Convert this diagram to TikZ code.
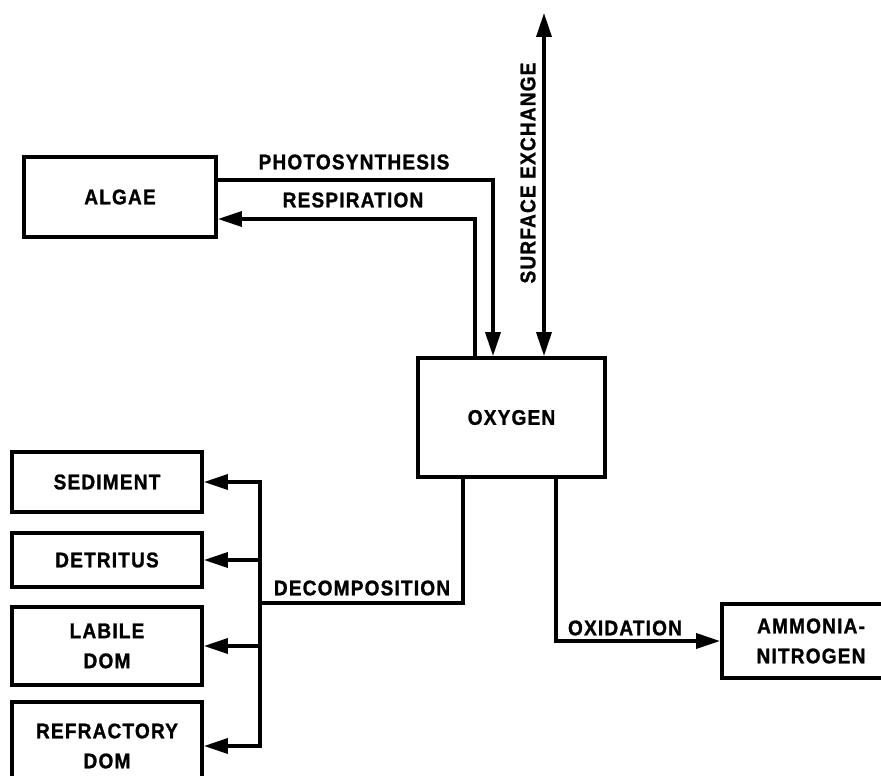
\documentclass[tikz,border=0pt]{standalone}
\usepackage{fontspec}
\setmainfont{Liberation Sans}[LetterSpace=5.5,FakeStretch=0.9,BoldFeatures={FakeBold=1.2}]
\usetikzlibrary{arrows.meta}
\begin{document}
\begin{tikzpicture}[x=1pt,y=-1pt,
  box/.style={draw,line width=3.8pt,inner sep=0pt,align=center,font=\lbl},
  lab/.style={inner sep=0pt,font=\lbl},
  conn/.style={line width=3.5pt},
  tip/.style={-{Triangle[length=24pt,width=15pt]}},
  both/.style={{Triangle[length=24pt,width=15pt]}-{Triangle[length=24pt,width=15pt]}}
]
\def\lbl{\fontsize{21.2}{30}\selectfont\bfseries}
\useasboundingbox (0,0) rectangle (881,776);
% boxes
\node[box,minimum width=192pt,minimum height=80pt] (algae) at (120,197) {ALGAE};
\node[box,minimum width=187pt,minimum height=119pt] (oxy) at (511.5,417.5) {OXYGEN};
\node[box,minimum width=190pt,minimum height=60pt] (sed) at (107,482) {SEDIMENT};
\node[box,minimum width=190pt,minimum height=54pt] (det) at (107,560) {DETRITUS};
\node[box,minimum width=190pt,minimum height=78pt] (lab) at (107,646) {LABILE\\DOM};
\node[box,minimum width=190pt,minimum height=88pt] (ref) at (107,746) {REFRACTORY\\DOM};
\node[box,minimum width=178pt,minimum height=74pt] (amm) at (811,641) {AMMONIA-\\NITROGEN};
% coordinates
\coordinate (top) at (544,13);
\coordinate (bus) at (260,603);
% connectors
\draw[conn,tip] ([yshift=17pt]algae.east) -| ([xshift=-18.5pt]oxy.north);
\draw[conn,tip] ([xshift=-36.5pt]oxy.north) |- ([yshift=-22pt]algae.east);
\draw[conn,both] (top) -- ([xshift=32.5pt]oxy.north);
\draw[conn] ([xshift=-48.5pt]oxy.south) |- (bus);
\draw[conn,tip] (bus) |- (sed.east);
\draw[conn,tip] (bus) |- (det.east);
\draw[conn,tip] (bus) |- (lab.east);
\draw[conn,tip] (bus) |- (ref.east);
\draw[conn,tip] ([xshift=44.5pt]oxy.south) |- (amm.west);
% labels
\node[lab] (lph) at (354,162) {PHOTOSYNTHESIS};
\node[lab] (lre) at (353,200) {RESPIRATION};
\node[lab,rotate=90] (lsu) at (528,173) {SURFACE EXCHANGE};
\node[lab] (lde) at (362,588) {DECOMPOSITION};
\node[lab] (lox) at (625,628) {OXIDATION};
\end{tikzpicture}
\end{document}
